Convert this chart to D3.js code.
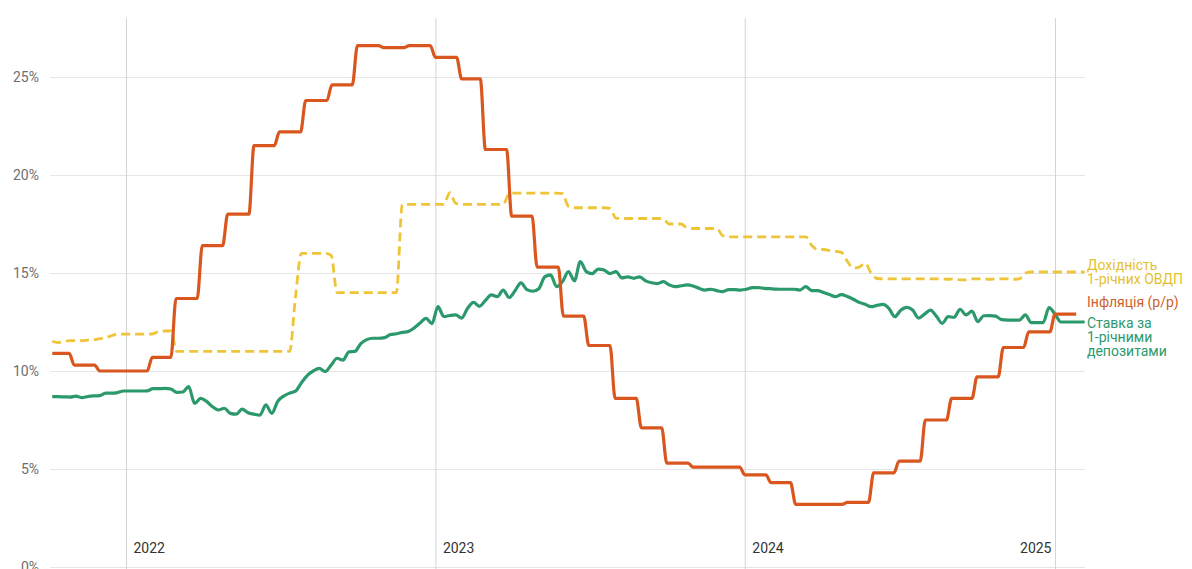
<!DOCTYPE html>
<html>
<head>
<meta charset="utf-8">
<script src="https://cdn.jsdelivr.net/npm/d3@7"></script>
<style>
  html, body { margin: 0; padding: 0; background: #fff; }
  svg { display: block; font-family: Roboto, "Noto Sans", Arial, sans-serif; }
</style>
</head>
<body>
<svg id="chart" width="1192" height="569"></svg>
<script>
// ---------- DATA ----------
// Weekly series start date (one value per week)
const weeklyStart = "2021-10-06";

// Ставка за 1-річними депозитами (%), weekly
const depositRate = [
  8.69, 8.69, 8.68, 8.67, 8.72, 8.64, 8.70, 8.73, 8.74, 8.87,
  8.87, 8.90, 8.98, 8.98, 8.98, 8.98, 8.99, 9.10, 9.10, 9.11,
  9.08, 8.91, 8.93, 9.20, 8.35, 8.60, 8.45, 8.18, 8.01, 8.10,
  7.84, 7.80, 8.05, 7.87, 7.80, 7.75, 8.27, 7.84, 8.45, 8.72,
  8.87, 8.97, 9.40, 9.78, 10.00, 10.13, 9.97, 10.30, 10.65, 10.55,
  10.98, 11.00, 11.40, 11.60, 11.67, 11.67, 11.70, 11.86, 11.90, 11.97,
  12.02, 12.20, 12.45, 12.68, 12.42, 13.28, 12.78, 12.83, 12.86, 12.70,
  13.20, 13.50, 13.30, 13.60, 13.88, 13.79, 14.13, 13.75, 14.10, 14.50,
  14.15, 14.07, 14.20, 14.80, 14.90, 14.30, 14.56, 15.07, 14.60, 15.58,
  15.07, 14.97, 15.20, 15.15, 14.97, 15.07, 14.75, 14.80, 14.73, 14.80,
  14.60, 14.50, 14.46, 14.56, 14.39, 14.30, 14.35, 14.39, 14.34, 14.22,
  14.13, 14.17, 14.10, 14.05, 14.15, 14.15, 14.13, 14.17, 14.25, 14.25,
  14.22, 14.20, 14.18, 14.17, 14.17, 14.17, 14.13, 14.30, 14.10, 14.10,
  14.00, 13.90, 13.79, 13.90, 13.80, 13.66, 13.50, 13.40, 13.28, 13.35,
  13.40, 13.20, 12.77, 13.10, 13.25, 13.11, 12.70, 12.90, 13.11, 12.80,
  12.43, 12.77, 12.74, 13.15, 12.86, 13.05, 12.52, 12.82, 12.83, 12.80,
  12.62, 12.60, 12.60, 12.60, 12.86, 12.47, 12.47, 12.47, 13.23, 12.90,
  12.50, 12.50, 12.50, 12.50, 12.50
];

// Дохідність 1-річних ОВДП (%), weekly
const bondYield = [
  11.52, 11.45, 11.50, 11.55, 11.55, 11.55, 11.58, 11.60, 11.65, 11.70,
  11.80, 11.88, 11.88, 11.88, 11.88, 11.88, 11.88, 11.90, 12.02, 12.04,
  12.04, 11.00, 11.00, 11.00, 11.00, 11.00, 11.00, 11.00, 11.00, 11.00,
  11.00, 11.00, 11.00, 11.00, 11.00, 11.00, 11.00, 11.00, 11.00, 11.00,
  11.00, 13.80, 16.00, 16.00, 16.00, 16.00, 16.00, 15.90, 14.00, 14.00,
  14.00, 14.00, 14.00, 14.00, 14.00, 14.00, 14.00, 14.00, 14.00, 18.50,
  18.50, 18.50, 18.50, 18.50, 18.50, 18.50, 18.50, 19.10, 18.55, 18.50,
  18.50, 18.50, 18.50, 18.50, 18.50, 18.50, 18.50, 19.05, 19.08, 19.08,
  19.08, 19.08, 19.08, 19.08, 19.08, 19.08, 19.05, 18.40, 18.33, 18.33,
  18.33, 18.33, 18.33, 18.33, 18.30, 17.80, 17.78, 17.78, 17.78, 17.78,
  17.78, 17.78, 17.78, 17.75, 17.50, 17.50, 17.50, 17.30, 17.27, 17.27,
  17.27, 17.27, 17.27, 16.90, 16.84, 16.84, 16.84, 16.84, 16.84, 16.84,
  16.84, 16.84, 16.84, 16.84, 16.84, 16.84, 16.84, 16.84, 16.40, 16.20,
  16.20, 16.15, 16.10, 16.05, 15.60, 15.25, 15.30, 15.50, 15.00, 14.72,
  14.70, 14.70, 14.70, 14.70, 14.70, 14.70, 14.70, 14.70, 14.70, 14.70,
  14.70, 14.68, 14.70, 14.65, 14.65, 14.70, 14.70, 14.70, 14.68, 14.70,
  14.70, 14.70, 14.68, 14.70, 15.00, 15.05, 15.05, 15.05, 15.05, 15.05,
  15.05, 15.05, 15.05, 15.05, 15.05
];

// Інфляція (р/р), monthly, from Oct 2021
const inflationStart = "2021-10";
const inflation = [
  10.9, 10.3, 10.0,
  10.0, 10.7, 13.7, 16.4, 18.0, 21.5, 22.2, 23.8, 24.6, 26.6, 26.5, 26.6,
  26.0, 24.9, 21.3, 17.9, 15.3, 12.8, 11.3, 8.6, 7.1, 5.3, 5.1, 5.1,
  4.7, 4.3, 3.2, 3.2, 3.3, 4.8, 5.4, 7.5, 8.6, 9.7, 11.2, 12.0,
  12.9
];

const yTicks = [0, 5, 10, 15, 20, 25];
const yearTicks = ["2022", "2023", "2024", "2025"];

const labels = {
  bond: ["Дохідність", "1-річних ОВДП"],
  infl: ["Інфляція (р/р)"],
  dep: ["Ставка за", "1-річними", "депозитами"]
};

// ---------- COLOURS ----------
const cBond = "#eec438", cInfl = "#d9571f", cDep = "#2c996c";
const cBondText = "#e6bf2e", cInflText = "#cf5f2c", cDepText = "#2c996c";

// ---------- BUILD ----------
const DAY = 86400000;
const parseDay = d3.utcParse("%Y-%m-%d");
const parseMonth = d3.utcParse("%Y-%m");
const wStart = parseDay(weeklyStart);
const depData = depositRate.map((v, i) => ({ d: new Date(+wStart + i * 7 * DAY), v }));
const bondData = bondYield.map((v, i) => ({ d: new Date(+wStart + i * 7 * DAY), v }));

const mStart = parseMonth(inflationStart);
const inflData = [];
inflation.forEach((v, i) => {
  const m0 = d3.utcMonth.offset(mStart, i);
  const m1 = d3.utcMonth.offset(mStart, i + 1);
  const from = i === 0 ? wStart : m0;
  inflData.push({ d: from, v });
  inflData.push({ d: new Date(+m1 - 6 * DAY), v });
});

const svg = d3.select("#chart");
const x = d3.scaleUtc()
  .domain([Date.UTC(2022, 0, 1), Date.UTC(2025, 0, 1)])
  .range([126, 1055]);
const y = d3.scaleLinear().domain([0, 25]).range([567, 77]);

const gridLeft = 50, gridRight = 1085, gridTop = 18, gridBottom = 569;

// Y axis + horizontal grid
const yAxis = svg.append("g")
  .attr("transform", `translate(${gridLeft},0)`)
  .call(d3.axisLeft(y).tickValues(yTicks).tickFormat(d => d + "%")
    .tickSize(-(gridRight - gridLeft)).tickPadding(11));
yAxis.select(".domain").remove();
yAxis.selectAll(".tick line").attr("stroke", "#e6e6e6").attr("stroke-width", 1);
yAxis.selectAll(".tick text")
  .attr("fill", "#6e6e6e").attr("font-size", 14)
  .attr("font-family", "Roboto, sans-serif");

// X axis + vertical year grid
const xAxis = svg.append("g")
  .attr("transform", `translate(0,${gridBottom})`)
  .call(d3.axisBottom(x)
    .tickValues(yearTicks.map(t => d3.utcParse("%Y")(t)))
    .tickFormat(d3.utcFormat("%Y"))
    .tickSize(-(gridBottom - gridTop)));
xAxis.select(".domain").remove();
xAxis.selectAll(".tick line").attr("stroke", "#d4d4d4").attr("stroke-width", 1);
const nYears = yearTicks.length;
xAxis.selectAll(".tick text")
  .attr("fill", "#333").attr("font-size", 14)
  .attr("font-family", "Roboto, sans-serif")
  .attr("y", -16).attr("dy", "0")
  .attr("text-anchor", (d, i) => i === nYears - 1 ? "end" : "start")
  .attr("x", (d, i) => i === nYears - 1 ? -4 : 7);

// Lines
const line = d3.line().x(d => x(d.d)).y(d => y(d.v)).curve(d3.curveMonotoneX);

svg.append("path").datum(bondData)
  .attr("fill", "none").attr("stroke", cBond).attr("stroke-width", 2.8)
  .attr("stroke-dasharray", "9,5").attr("d", line);

svg.append("path").datum(depData)
  .attr("fill", "none").attr("stroke", cDep).attr("stroke-width", 3.2)
  .attr("stroke-linejoin", "round").attr("d", line);

svg.append("path").datum(inflData)
  .attr("fill", "none").attr("stroke", cInfl).attr("stroke-width", 3.2)
  .attr("stroke-linejoin", "round").attr("d", line);

// Series labels
function addLabel(lines, yStart, color) {
  const t = svg.append("text")
    .attr("x", 1087).attr("fill", color)
    .attr("font-size", 14).attr("font-family", "Roboto, sans-serif");
  lines.forEach((s, i) => {
    t.append("tspan").attr("x", 1087).attr("y", yStart + i * 14)
      .attr("dy", "0.35em").text(s);
  });
}
addLabel(labels.bond, y(bondYield[bondYield.length - 1]) - 7, cBondText);
addLabel(labels.infl, y(inflation[inflation.length - 1]) - 12, cInflText);
addLabel(labels.dep, y(depositRate[depositRate.length - 1]) + 1, cDepText);
</script>
</body>
</html>
